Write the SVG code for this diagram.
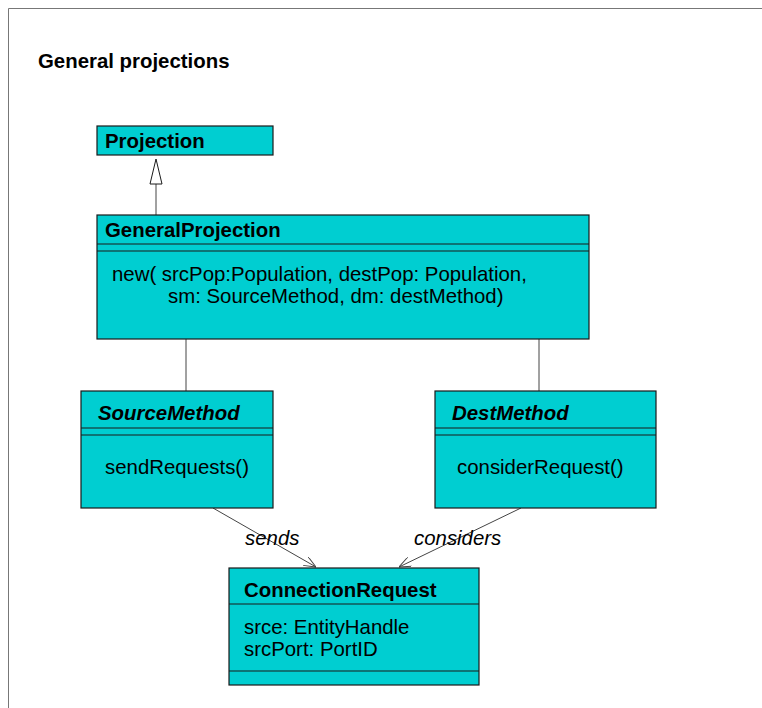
<svg xmlns="http://www.w3.org/2000/svg" width="762" height="708" viewBox="0 0 762 708">
  <style>
    .box { fill: #00CED1; stroke: #1a1a1a; stroke-width: 1.2; }
    .sep { stroke: #1a1a1a; stroke-width: 1.2; fill: none; }
    .t { font-family: "Liberation Sans", Arial, sans-serif; font-size: 20.4px; fill: #000; }
    .b { font-weight: bold; }
    .i { font-style: italic; }
    .edge { stroke: #444; stroke-width: 1; fill: none; }
  </style>
  <defs>
    <marker id="open" viewBox="0 0 12 10" refX="12" refY="5" markerWidth="12" markerHeight="10" markerUnits="userSpaceOnUse" orient="auto">
      <path d="M0,0 L12,5 L0,10" fill="none" stroke="#444" stroke-width="1"/>
    </marker>
  </defs>
  <rect width="762" height="708" fill="#fff"/>
  <path d="M8.5 708 V8.5 H762" fill="none" stroke="#777" stroke-width="1"/>
  <text class="t b" x="38" y="68">General projections</text>

  <g id="connectors">
    <line class="edge" x1="156" y1="215" x2="156" y2="184"/>
    <polygon points="156,159 150,184 162,184" fill="#fff" stroke="#1a1a1a" stroke-width="1"/>
    <line class="edge" x1="186" y1="339" x2="186" y2="391"/>
    <line class="edge" x1="539" y1="339" x2="539" y2="391"/>
    <line class="edge" x1="213" y1="508" x2="316" y2="567" marker-end="url(#open)"/>
    <line class="edge" x1="521" y1="508" x2="399" y2="567" marker-end="url(#open)"/>
    <text class="t i" x="245" y="545">sends</text>
    <text class="t i" x="414" y="545">considers</text>
  </g>

  <g id="Projection">
    <rect class="box" x="97" y="126" width="176" height="29"/>
    <text class="t b" x="105" y="148">Projection</text>
  </g>

  <g id="GeneralProjection">
    <rect class="box" x="97" y="215" width="492" height="124"/>
    <line class="sep" x1="97" y1="244" x2="589" y2="244"/>
    <line class="sep" x1="97" y1="251" x2="589" y2="251"/>
    <text class="t b" x="105" y="237">GeneralProjection</text>
    <text class="t" x="112" y="281">new( srcPop:Population, destPop: Population,</text>
    <text class="t" x="168" y="303">sm: SourceMethod, dm: destMethod)</text>
  </g>

  <g id="SourceMethod">
    <rect class="box" x="81" y="391" width="192" height="117"/>
    <line class="sep" x1="81" y1="428" x2="273" y2="428"/>
    <line class="sep" x1="81" y1="435" x2="273" y2="435"/>
    <text class="t b i" x="98" y="420">SourceMethod</text>
    <text class="t" x="105" y="474">sendRequests()</text>
  </g>

  <g id="DestMethod">
    <rect class="box" x="435" y="391" width="221" height="117"/>
    <line class="sep" x1="435" y1="428" x2="656" y2="428"/>
    <line class="sep" x1="435" y1="435" x2="656" y2="435"/>
    <text class="t b i" x="452" y="420">DestMethod</text>
    <text class="t" x="457" y="474">considerRequest()</text>
  </g>

  <g id="ConnectionRequest">
    <rect class="box" x="229" y="568" width="250" height="117"/>
    <line class="sep" x1="229" y1="604" x2="479" y2="604"/>
    <line class="sep" x1="229" y1="671" x2="479" y2="671"/>
    <text class="t b" x="244" y="597">ConnectionRequest</text>
    <text class="t" x="244" y="634">srce: EntityHandle</text>
    <text class="t" x="244" y="656">srcPort: PortID</text>
  </g>
</svg>
